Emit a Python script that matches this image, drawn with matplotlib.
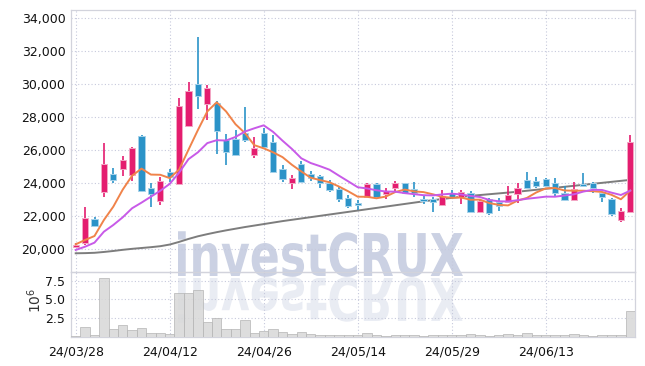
import numpy as np
import matplotlib
matplotlib.use("Agg")
import matplotlib.pyplot as plt
from matplotlib import font_manager as fm
from matplotlib.textpath import TextPath
from matplotlib.patches import PathPatch
from matplotlib.font_manager import FontProperties
from matplotlib.transforms import Affine2D

# trading days shown on the chart
dates = ["24/03/28", "24/03/29", "24/04/01", "24/04/02", "24/04/03", "24/04/04", "24/04/05",
         "24/04/08", "24/04/09", "24/04/11", "24/04/12", "24/04/15", "24/04/16", "24/04/17",
         "24/04/18", "24/04/19", "24/04/22", "24/04/23", "24/04/24", "24/04/25", "24/04/26",
         "24/04/29", "24/04/30", "24/05/02", "24/05/03", "24/05/07", "24/05/08", "24/05/09",
         "24/05/10", "24/05/13", "24/05/14", "24/05/16", "24/05/17", "24/05/20", "24/05/21",
         "24/05/22", "24/05/23", "24/05/24", "24/05/27", "24/05/28", "24/05/29", "24/05/30",
         "24/05/31", "24/06/03", "24/06/04", "24/06/05", "24/06/07", "24/06/10", "24/06/11",
         "24/06/12", "24/06/13", "24/06/14", "24/06/17", "24/06/18", "24/06/19", "24/06/20",
         "24/06/21", "24/06/24", "24/06/25", "24/06/26"]

opens = [20150, 20380, 21830, 23500, 24580, 24860, 24520, 26880, 23710, 22960,
         24700, 23990, 27500, 30030, 28800, 28860, 26640, 26700, 27040, 25730,
         27080, 26520, 24880, 24050, 25180, 24580, 24450, 24050, 23650, 23100,
         22840, 23170, 23970, 23370, 23750, 24010, 23650, 23040, 23080, 22700,
         23440, 23200, 23410, 22290, 23040, 22900, 22900, 23350, 24210, 24150,
         24270, 24010, 23400, 23020, 23950, 24010, 23400, 23060, 21790, 22290]
highs = [20400, 22600, 21950, 26440, 24920, 25670, 26230, 26940, 24010, 24410,
         24880, 29160, 30170, 32900, 29970, 29000, 26980, 27240, 28620, 26840,
         27350, 26940, 25120, 24500, 25370, 24780, 24520, 24210, 23780, 23300,
         23000, 24030, 24000, 23710, 24150, 24050, 24110, 23300, 23160, 23600,
         23600, 23610, 23520, 23000, 23100, 23140, 23850, 24050, 24720, 24420,
         24350, 24320, 23850, 24070, 24620, 24100, 23450, 23120, 22500, 26940]
lows = [20100, 20270, 21350, 23170, 24050, 24450, 24170, 23500, 22560, 22700,
        24110, 23950, 27450, 28520, 27850, 25770, 25120, 25670, 26500, 25540,
        26100, 24620, 24110, 23650, 24010, 24130, 23710, 23500, 22900, 22500,
        22400, 23100, 23040, 23040, 23500, 23400, 23200, 22740, 22290, 22650,
        23100, 22760, 22250, 22230, 22100, 22350, 22850, 22800, 23700, 23700,
        23800, 23200, 22950, 22980, 23800, 23400, 22860, 22050, 21650, 22250]
closes = [20270, 21890, 21430, 25180, 24210, 25420, 26130, 23570, 23370, 24150,
          24420, 28700, 29600, 29320, 29800, 27180, 25930, 25730, 26640, 26130,
          26230, 24720, 24270, 24320, 24110, 24320, 24010, 23610, 23040, 22640,
          22700, 23970, 23170, 23570, 24010, 23440, 23410, 22960, 22900, 23240,
          23170, 23470, 22290, 22940, 22190, 22640, 23300, 23750, 23750, 23850,
          23850, 23440, 23000, 23670, 23850, 23710, 23200, 22130, 22330, 26500]

# volume in millions of shares
volume_m = [0.15, 1.3, 0.24, 7.8, 1.04, 1.57, 0.9, 1.17, 0.55, 0.55,
            0.37, 5.82, 5.85, 6.22, 2.0, 2.5, 1.04, 1.04, 2.23, 0.55,
            0.81, 1.04, 0.68, 0.41, 0.68, 0.41, 0.24, 0.25, 0.22, 0.2,
            0.25, 0.55, 0.3, 0.18, 0.25, 0.2, 0.22, 0.18, 0.2, 0.25,
            0.3, 0.2, 0.41, 0.2, 0.15, 0.2, 0.35, 0.3, 0.55, 0.3,
            0.2, 0.2, 0.25, 0.41, 0.2, 0.15, 0.2, 0.2, 0.2, 3.47]

# moving averages as drawn
ma_short = [20316, 20576, 20818, 21788, 22596, 23626, 24474, 24902, 24540, 24528,
            24328, 24842, 26048, 27238, 28368, 28920, 28366, 27592, 27056, 26322,
            26132, 25890, 25598, 25134, 24730, 24348, 24206, 24074, 23818, 23524,
            23200, 23192, 23104, 23210, 23484, 23632, 23520, 23478, 23344, 23190,
            23136, 23148, 23014, 23022, 22812, 22706, 22672, 22964, 23126, 23458,
            23700, 23728, 23578, 23562, 23562, 23534, 23486, 23312, 23044, 23574]
ma_mid = [19970, 20170, 20415, 21080, 21485, 21950, 22500, 22840, 23200, 23562,
          23977, 24658, 25475, 25889, 26448, 26624, 26604, 26820, 27147, 27345,
          27526, 27128, 26595, 26095, 25526, 25240, 25048, 24836, 24476, 24127,
          23774, 23699, 23589, 23514, 23504, 23416, 23356, 23291, 23277, 23337,
          23384, 23334, 23246, 23183, 23001, 22921, 22910, 22989, 23074, 23135,
          23203, 23200, 23271, 23344, 23510, 23617, 23607, 23445, 23303, 23568]
ma_long = [19770, 19780, 19800, 19850, 19910, 19980, 20040, 20090, 20140, 20200,
           20300, 20460, 20640, 20800, 20930, 21050, 21160, 21260, 21360, 21450,
           21540, 21630, 21720, 21800, 21880, 21960, 22040, 22120, 22200, 22280,
           22360, 22440, 22520, 22600, 22680, 22760, 22840, 22920, 22990, 23060,
           23130, 23190, 23250, 23300, 23350, 23400, 23450, 23500, 23560, 23620,
           23680, 23740, 23800, 23860, 23920, 23980, 24040, 24100, 24160, 24220]

price_ticks = [20000, 22000, 24000, 26000, 28000, 30000, 32000, 34000]
vol_ticks = [2.5, 5.0, 7.5]

names = {f.name for f in fm.fontManager.ttflist}
tick_font = "Liberation Sans Narrow" if "Liberation Sans Narrow" in names else "DejaVu Sans"
tick_size = 11.5 if tick_font == "Liberation Sans Narrow" else 9
plt.rcParams["font.family"] = [tick_font, "DejaVu Sans"]

UP = "#e41d6f"
DOWN = "#2b93c8"
GRID = "#c6c9dc"
W, H = 645, 366

fig = plt.figure(figsize=(W / 100, H / 100), dpi=100)
ax = fig.add_axes([71 / W, 1 - 272 / H, (635 - 71) / W, (272 - 9.5) / H])
axv = fig.add_axes([71 / W, 1 - 337 / H, (635 - 71) / W, (337 - 272) / H], sharex=ax)
for a in (ax, axv):
    a.set_facecolor("none")
    for s in a.spines.values():
        s.set_color("#d2d3dc")
        s.set_linewidth(0.9)
    a.grid(True, color=GRID, linestyle=(0, (1, 2)), linewidth=0.8)
    a.set_axisbelow(True)
    a.tick_params(length=0, labelsize=tick_size, colors="#111111", pad=4)

# watermark with reflection
tp = TextPath((0, 0), "investCRUX", size=100,
              prop=FontProperties(family="DejaVu Sans", weight="bold"))
ext = tp.get_extents()
sx = (463 - 178) / ext.width
sy = 43 / 73.0
top_tr = (Affine2D().translate(-ext.x0, 0).scale(sx / W, sy / H)
          .translate(178 / W, 1 - 276 / H) + fig.transFigure)
bot_tr = (Affine2D().translate(-ext.x0, 0).scale(sx / W, -sy / H)
          .translate(178 / W, 1 - 278 / H) + fig.transFigure)
fig.patches.append(PathPatch(tp, transform=top_tr, facecolor="#c2c9de",
                             edgecolor="none", alpha=0.85, zorder=-1))
fig.patches.append(PathPatch(tp, transform=bot_tr, facecolor="#c2c9de",
                             edgecolor="none", alpha=0.35, zorder=-1))

x = np.arange(len(dates))
o = np.array(opens)
c = np.array(closes)
colors = [UP if cc >= oo else DOWN for oo, cc in zip(o, c)]
halo = ["#f3a6c4" if col == UP else "#a5d2ea" for col in colors]

ax.plot(x, ma_long, color="#7d7d7d", lw=1.4, zorder=2)
ax.vlines(x, lows, highs, colors=colors, lw=1.2, zorder=3)
ax.bar(x, np.maximum(np.abs(c - o), 40), bottom=np.minimum(o, c), width=0.68,
       color=colors, edgecolor=halo, linewidth=0.7, zorder=4)
ax.plot(x, ma_short, color="#f0834a", lw=1.4, zorder=5)
ax.plot(x, ma_mid, color="#c85ae8", lw=1.4, zorder=5)

ax.set_ylim(18636, 34545)
ax.set_yticks(price_ticks)
ax.set_yticklabels([f"{v:,}" for v in price_ticks])
ax.set_xlim(-0.5, len(dates) - 0.5)
ax.set_xticks(x[::10])
ax.tick_params(labelbottom=False)

axv.bar(x, volume_m, width=1.0, color="#d8d8d8", edgecolor="#b5b5b5",
        linewidth=0.6, alpha=0.85, zorder=3)
axv.set_ylim(0, 8.64)
axv.set_yticks(vol_ticks)
axv.set_yticklabels([f"{v:.1f}" for v in vol_ticks])
axv.set_xticks(x[::10])
axv.set_xticklabels(dates[::10])
axv.tick_params(axis="x", pad=6)
fig.text(35 / W, 1 - 300 / H, r"$10^6$", rotation=90, ha="center", va="center",
         fontsize=10, color="#333333", family="DejaVu Serif")

fig.savefig("out.png", dpi=100, facecolor="white")
